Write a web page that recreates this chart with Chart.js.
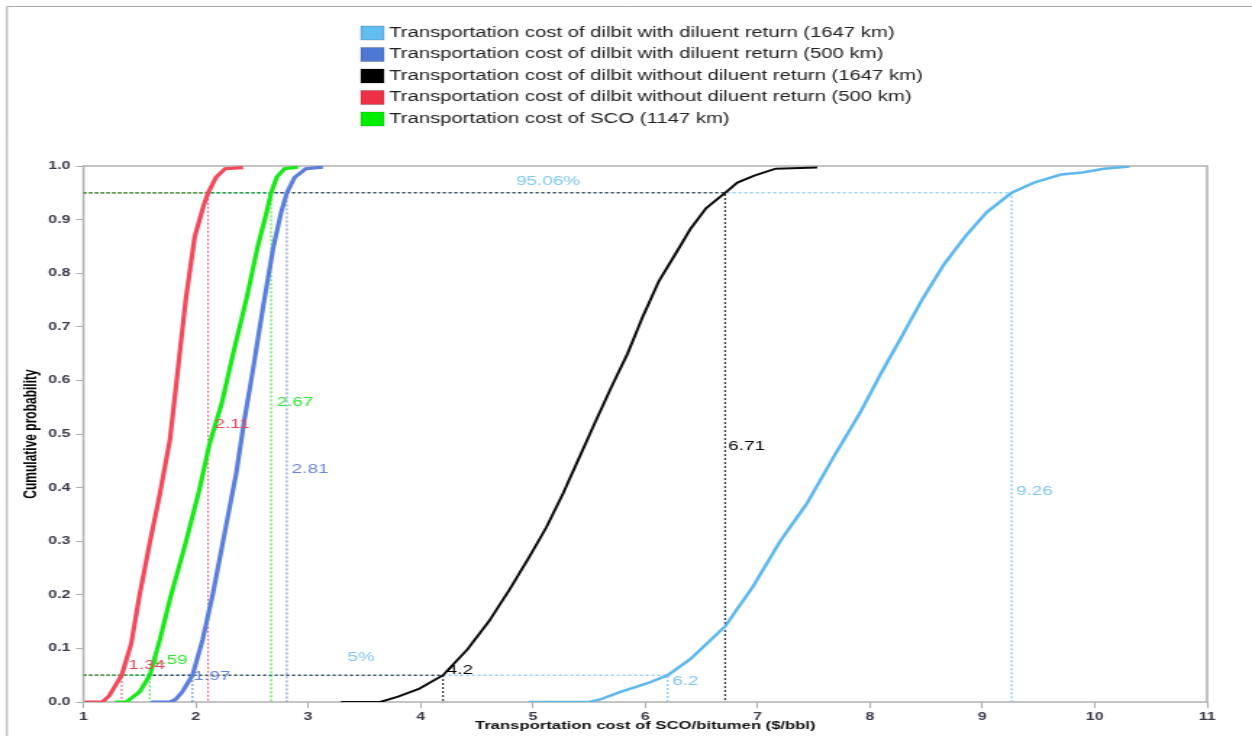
<!DOCTYPE html>
<html>
<head>
<meta charset="utf-8">
<title>Transportation cost CDF</title>
<script src="https://cdn.jsdelivr.net/npm/chart.js@4.4.1/dist/chart.umd.min.js"></script>
<style>
  html, body { margin: 0; padding: 0; background: #fff; overflow: hidden; }
  canvas { display: block; }
</style>
</head>
<body>
<!-- the source picture is stretched sideways, so the canvas is drawn narrow and widened by css -->
<canvas id="costChart" width="864" height="736" style="width:1252px;height:736px"></canvas>
<script>
// Series (legend order)
const seriesNames = [
    "Transportation cost of dilbit with diluent return (1647 km)",
    "Transportation cost of dilbit with diluent return (500 km)",
    "Transportation cost of dilbit without diluent return (1647 km)",
    "Transportation cost of dilbit without diluent return (500 km)",
    "Transportation cost of SCO (1147 km)",
];
const lineColors = ["#5cb8ee", "#5b7fdc", "#0a0a0a", "#f04a5c", "#1ae81a"];
const boxColors = ["#62bdf1", "#4d78d4", "#000000", "#ee3046", "#00ee00"];

// Cumulative curves ($/bbl, probability)
const withReturn1647X = [4.96, 5.50, 5.60, 5.78, 6.02, 6.20, 6.40, 6.71, 6.96, 7.20, 7.44, 7.67, 7.91, 8.09, 8.28, 8.47, 8.66, 8.85, 9.04, 9.26, 9.46, 9.70, 9.89, 10.08, 10.31];
const withReturn1647P = [0, 0, 0.005, 0.019, 0.035, 0.05, 0.08, 0.141, 0.216, 0.30, 0.371, 0.455, 0.539, 0.61, 0.681, 0.753, 0.817, 0.869, 0.914, 0.95, 0.969, 0.984, 0.988, 0.995, 0.999];

const withReturn500X = [1.60, 1.77, 1.82, 1.88, 1.97, 2.06, 2.15, 2.27, 2.36, 2.43, 2.51, 2.60, 2.69, 2.76, 2.81, 2.88, 2.98, 3.13];
const withReturn500P = [0, 0, 0.005, 0.019, 0.05, 0.116, 0.20, 0.33, 0.427, 0.524, 0.622, 0.739, 0.849, 0.914, 0.95, 0.979, 0.995, 0.998];

const noReturn1647X = [3.29, 3.64, 3.80, 3.99, 4.20, 4.42, 4.61, 4.79, 4.96, 5.12, 5.27, 5.41, 5.55, 5.69, 5.84, 5.98, 6.12, 6.26, 6.40, 6.54, 6.71, 6.82, 6.97, 7.16, 7.53];
const noReturn1647P = [0, 0, 0.01, 0.025, 0.05, 0.099, 0.151, 0.209, 0.268, 0.326, 0.39, 0.455, 0.52, 0.584, 0.649, 0.72, 0.785, 0.833, 0.882, 0.921, 0.95, 0.969, 0.982, 0.995, 0.997];

const noReturn500X = [1.01, 1.17, 1.23, 1.34, 1.425, 1.50, 1.59, 1.68, 1.77, 1.84, 1.91, 1.99, 2.07, 2.11, 2.18, 2.26, 2.42];
const noReturn500P = [0, 0, 0.012, 0.05, 0.109, 0.20, 0.297, 0.388, 0.49, 0.62, 0.75, 0.868, 0.927, 0.95, 0.979, 0.995, 0.997];

const scoX = [1.28, 1.38, 1.50, 1.59, 1.68, 1.78, 1.91, 2.03, 2.12, 2.23, 2.33, 2.45, 2.55, 2.63, 2.67, 2.72, 2.79, 2.91];
const scoP = [0, 0, 0.019, 0.05, 0.116, 0.20, 0.297, 0.395, 0.48, 0.557, 0.648, 0.752, 0.849, 0.914, 0.95, 0.979, 0.995, 0.998];

// 5% and 95% values (legend order)
const lowLevel = 0.05;
const highLevel = 0.95;
const lowValues = [6.2, 1.97, 4.2, 1.34, 1.59];
const highValues = [9.26, 2.81, 6.71, 2.11, 2.67];

// Value labels: text, x where the text starts, probability at its middle
const markText = ["1.59", "1.34", "1.97", "4.2", "6.2", "5%", "95.06%", "2.11", "2.67", "2.81", "6.71", "9.26"];
const markX = [1.60, 1.40, 1.98, 4.234, 6.24, 3.35, 4.85, 2.165, 2.72, 2.854, 6.739, 9.30];
const markP = [0.078, 0.069, 0.0485, 0.058, 0.038, 0.083, 0.971, 0.518, 0.558, 0.433, 0.476, 0.392];
const markColor = ["#2ee82e", "#e8485c", "#6a84d8", "#000000", "#7ec6f2", "#7ec6f2", "#7ec6f2", "#e8485c", "#2ee82e", "#6a84d8", "#000000", "#7ec6f2"];

const xTicksMin = 1, xTicksMax = 11;

const FONT = "'Liberation Sans', Arial, sans-serif";

const curveX = [withReturn1647X, withReturn500X, noReturn1647X, noReturn500X, scoX];
const curveP = [withReturn1647P, withReturn500P, noReturn1647P, noReturn500P, scoP];
const curveWidths = [2.5, 3.2, 2, 3.2, 3.2];

function toPoints(xs, ps) {
    return xs.map((x, i) => ({ x: x, y: ps[i] }));
}

const datasets = [];
curveX.forEach((xs, i) => {
    datasets.push({
        label: seriesNames[i],
        data: toPoints(xs, curveP[i]),
        borderColor: lineColors[i],
        borderWidth: curveWidths[i],
        showLine: true,
        pointRadius: 0,
        tension: 0,
        order: 0,
    });
});

// dotted guide lines: green on top, light blue at the bottom
const refOrder = [5, 4, 3, 2, 1];
lowValues.forEach((v, i) => {
    [[lowLevel, v], [highLevel, highValues[i]]].forEach(([lvl, val]) => {
        datasets.push({
            label: "ref",
            data: [{ x: xTicksMin, y: lvl }, { x: val, y: lvl }, { x: val, y: 0 }],
            borderColor: lineColors[i],
            borderWidth: 1,
            borderDash: [2, 2],
            showLine: true,
            pointRadius: 0,
            tension: 0,
            order: refOrder[i],
        });
    });
});

const framePlugin = {
    id: "frame",
    beforeDraw(chart) {
        const ctx = chart.ctx;
        ctx.save();
        ctx.fillStyle = "#fff";
        ctx.fillRect(0, 0, chart.width, chart.height);
        ctx.strokeStyle = "#a8a8a8";
        ctx.lineWidth = 1;
        ctx.beginPath();
        ctx.moveTo(4.8, chart.height);
        ctx.lineTo(4.8, 6.5);
        ctx.lineTo(chart.width, 6.5);
        ctx.stroke();
        ctx.restore();
    },
    beforeDatasetsDraw(chart) {
        const { left, top, right, bottom } = chart.chartArea;
        const ctx = chart.ctx;
        ctx.save();
        ctx.strokeStyle = "#b0b0b0";
        ctx.lineWidth = 1.5;
        ctx.strokeRect(left, top, right - left, bottom - top);
        ctx.restore();
    },
    afterDatasetsDraw(chart) {
        const ctx = chart.ctx;
        const xs = chart.scales.x, ys = chart.scales.y;
        ctx.save();
        ctx.font = "13px " + FONT;
        ctx.textBaseline = "middle";
        ctx.textAlign = "left";
        markText.forEach((t, i) => {
            ctx.fillStyle = markColor[i];
            ctx.fillText(t, xs.getPixelForValue(markX[i]), ys.getPixelForValue(markP[i]));
        });
        ctx.restore();
    },
    afterDraw(chart) {
        // legend, one item per row
        const ctx = chart.ctx;
        ctx.save();
        ctx.font = "14px " + FONT;
        ctx.textBaseline = "middle";
        ctx.textAlign = "left";
        seriesNames.forEach((name, i) => {
            const y = 33 + i * 21.5;
            ctx.fillStyle = boxColors[i];
            ctx.fillRect(249, y - 7, 16, 14);
            ctx.strokeStyle = "rgba(0,0,0,0.25)";
            ctx.lineWidth = 0.7;
            ctx.strokeRect(249, y - 7, 16, 14);
            ctx.fillStyle = "#222";
            ctx.fillText(name, 268.5, y);
        });
        ctx.restore();
    },
};

const ctx = document.getElementById("costChart").getContext("2d");
const costChart = new Chart(ctx, {
    type: "scatter",
    data: { datasets: datasets },
    plugins: [framePlugin],
    options: {
        responsive: false,
        animation: false,
        layout: { padding: { top: 166, right: 31, bottom: 0, left: 0 } },
        plugins: {
            legend: { display: false },
            tooltip: { enabled: false },
        },
        scales: {
            x: {
                type: "linear",
                min: xTicksMin,
                max: xTicksMax,
                afterFit: (scale) => { scale.height = 34; },
                ticks: {
                    stepSize: 1,
                    padding: 2,
                    color: "#3a3a4a",
                    font: { family: FONT, size: 11, weight: "bold" },
                },
                grid: { drawOnChartArea: false, tickLength: 6, color: "#aaaaaa" },
                border: { display: false },
                title: {
                    display: true,
                    text: "Transportation cost of SCO/bitumen ($/bbl)",
                    color: "#111",
                    font: { family: FONT, size: 11.5, weight: "bold" },
                    padding: { top: 0, bottom: 3 },
                },
            },
            y: {
                type: "linear",
                min: 0,
                max: 1,
                afterFit: (scale) => { scale.width = 57.6; },
                ticks: {
                    stepSize: 0.1,
                    padding: 4,
                    color: "#3a3a4a",
                    font: { family: FONT, size: 11, weight: "bold" },
                    callback: (v) => Number(v).toFixed(1),
                },
                grid: { drawOnChartArea: false, tickLength: 5, color: "#aaaaaa" },
                border: { display: false },
                title: {
                    display: true,
                    text: "Cumulative probability",
                    color: "#000",
                    font: { family: FONT, size: 12, weight: "bold" },
                    padding: { top: 14, bottom: 0 },
                },
            },
        },
    },
});
</script>
</body>
</html>
